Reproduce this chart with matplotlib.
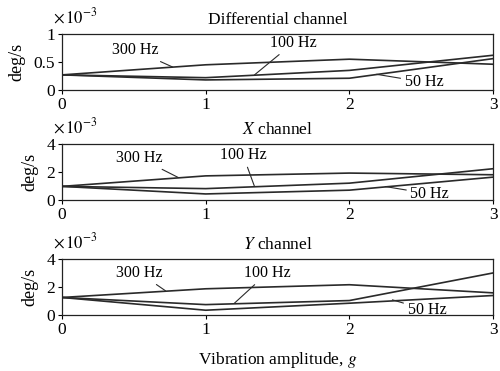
import matplotlib
matplotlib.use("Agg")
import matplotlib.pyplot as plt

plt.rcParams["font.family"] = ["Liberation Serif", "DejaVu Serif"]
plt.rcParams["mathtext.fontset"] = "stix"

AMPLITUDE = [0, 1, 2, 3]

# values in units of 1e-3 deg/s
DIFF_300 = [0.27, 0.45, 0.55, 0.46]
DIFF_100 = [0.27, 0.22, 0.35, 0.62]
DIFF_50 = [0.27, 0.18, 0.21, 0.56]

X_300 = [0.97, 1.72, 1.92, 1.80]
X_100 = [0.97, 0.81, 1.20, 2.23]
X_50 = [0.97, 0.43, 0.70, 1.63]

Y_300 = [1.25, 1.87, 2.16, 1.58]
Y_100 = [1.25, 0.74, 1.03, 3.00]
Y_50 = [1.25, 0.34, 0.84, 1.39]

TITLES = ["Differential channel", r"$\mathit{X}$ channel", r"$\mathit{Y}$ channel"]
Y_MAX = [1, 4, 4]
Y_TICKS = [[0, 0.5, 1], [0, 2, 4], [0, 2, 4]]
Y_TICKLABELS = [["0", "0.5", "1"], ["0", "2", "4"], ["0", "2", "4"]]

# label text position, leader end point (data coords)
LABELS = [
    [("300 Hz", (0.51, 0.71), (0.77, 0.41)),
     ("100 Hz", (1.61, 0.84), (1.34, 0.27)),
     ("50 Hz", (2.52, 0.14), (2.19, 0.28))],
    [("300 Hz", (0.54, 3.0), (0.81, 1.60)),
     ("100 Hz", (1.26, 3.2), (1.34, 0.96)),
     ("50 Hz", (2.56, 0.43), (2.25, 0.96))],
    [("300 Hz", (0.54, 3.0), (0.72, 1.73)),
     ("100 Hz", (1.43, 3.0), (1.20, 0.84)),
     ("50 Hz", (2.54, 0.36), (2.30, 1.08))],
]

SERIES = [
    (DIFF_300, DIFF_100, DIFF_50),
    (X_300, X_100, X_50),
    (Y_300, Y_100, Y_50),
]

fig = plt.figure(figsize=(5.0, 3.71), dpi=100)
bottoms = [0.7574, 0.461, 0.151]
left, width, height = 0.124, 0.862, 0.151

LINE_COLOR = "#2a2a2a"

for i in range(3):
    ax = fig.add_axes([left, bottoms[i], width, height])
    for vals in SERIES[i]:
        ax.plot(AMPLITUDE, vals, color=LINE_COLOR, lw=1.2)
    ax.set_xlim(0, 3)
    ax.set_ylim(0, Y_MAX[i])
    ax.set_xticks([0, 1, 2, 3])
    ax.set_yticks(Y_TICKS[i])
    ax.set_yticklabels(Y_TICKLABELS[i])
    ax.tick_params(direction="out", length=3, width=0.8, labelsize=12.5, pad=2)
    for s in ax.spines.values():
        s.set_linewidth(0.9)
        s.set_color("#222222")
    ax.set_title(TITLES[i], fontsize=12.5, pad=7)
    ax.set_ylabel("deg/s", fontsize=13, labelpad=6)
    ax.text(-0.022, 1.30, r"$\times\,10^{-3}$", transform=ax.transAxes,
            fontsize=12, ha="left", va="center")
    for txt, pos, end in LABELS[i]:
        ax.annotate(txt, xy=end, xytext=pos, fontsize=11.5, ha="center", va="center",
                    arrowprops=dict(arrowstyle="-", color=LINE_COLOR, lw=0.8,
                                    shrinkA=1, shrinkB=0))
    if i == 2:
        ax.set_xlabel(r"Vibration amplitude, $\mathit{g}$", fontsize=12.5, labelpad=9)

fig.savefig("out.png", dpi=100)
